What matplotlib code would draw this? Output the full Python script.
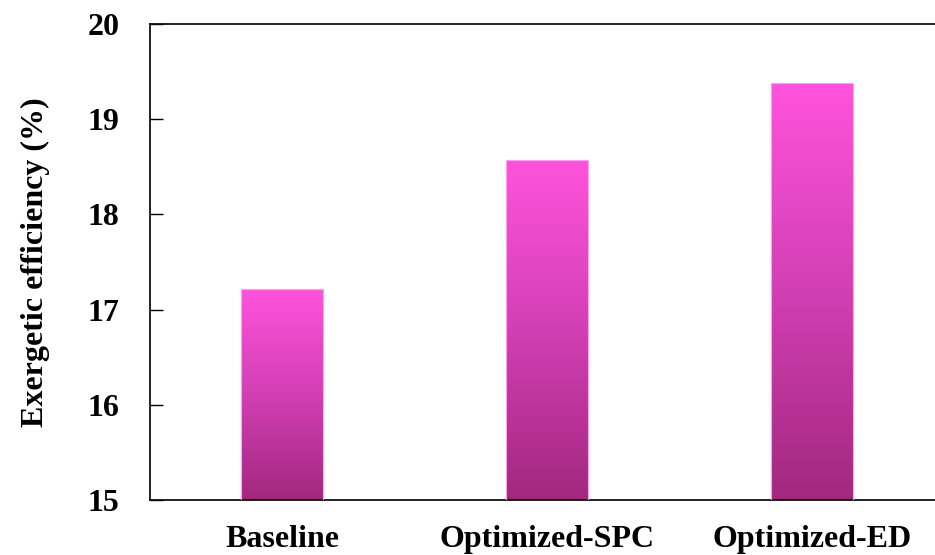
import numpy as np
import matplotlib
matplotlib.use("Agg")
import matplotlib.pyplot as plt
from matplotlib.colors import LinearSegmentedColormap

cases = ["Baseline", "Optimized-SPC", "Optimized-ED"]
efficiency = [17.22, 18.57, 19.38]

plt.rcParams["font.family"] = ["Liberation Serif", "DejaVu Serif"]
plt.rcParams["font.weight"] = "bold"

fig = plt.figure(figsize=(9.35, 5.55), dpi=100)
ax = fig.add_axes([0.1604, 0.0991, 0.8497, 0.8577])

pink = LinearSegmentedColormap.from_list("pink", ["#a2287e", "#d23fb4", "#ff53dd"])
grad = np.linspace(0, 1, 256).reshape(-1, 1)

x = np.arange(len(cases))
bars = ax.bar(x, efficiency, width=0.31, color="none", edgecolor="#ffa0ee", linewidth=0.8, zorder=3)
for b in bars:
    x0 = b.get_x()
    x1 = x0 + b.get_width()
    # vertical gradient from bar floor to bar top, clipped to the bar
    im = ax.imshow(grad, cmap=pink, origin="lower", aspect="auto",
                   extent=[x0, x1, 15, b.get_height()], zorder=2)
    im.set_clip_path(b)

ax.set_xlim(-0.5, 2.5)
ax.set_ylim(15, 20)
ax.set_yticks([15, 16, 17, 18, 19, 20])
ax.set_xticks(x)
ax.set_xticklabels(cases, fontsize=23, fontweight="bold")
ax.tick_params(axis="x", length=0, pad=18)
ax.tick_params(axis="y", direction="in", length=9, width=1, pad=22, labelsize=23)
for lbl in ax.get_yticklabels():
    lbl.set_fontweight("bold")

ax.set_ylabel("Exergetic efficiency (%)", fontsize=23, fontweight="bold", labelpad=27)

for s in ax.spines.values():
    s.set_linewidth(1.3)
    s.set_color("#111111")

fig.savefig("out.png", dpi=100)
